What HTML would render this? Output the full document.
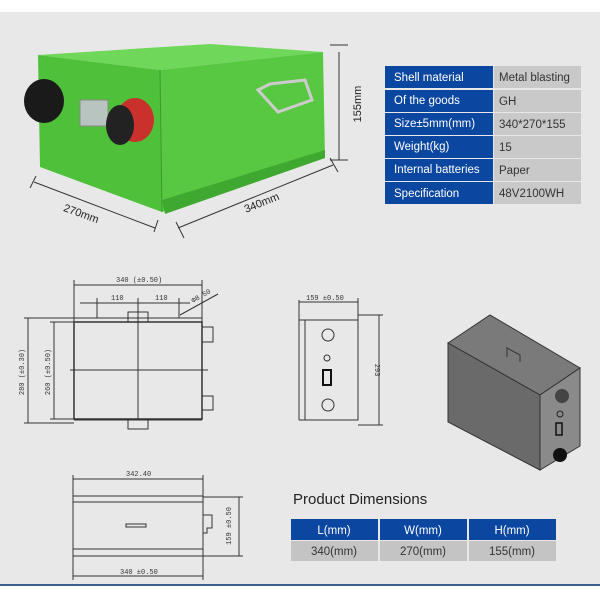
<!DOCTYPE html>
<html><head><meta charset="utf-8"><style>
body{margin:0;width:600px;height:600px;overflow:hidden;background:#fff;font-family:"Liberation Sans",sans-serif}
</style></head><body>
<svg width="600" height="600" viewBox="0 0 600 600" xmlns="http://www.w3.org/2000/svg" font-family="Liberation Sans, sans-serif">
<rect x="0" y="12" width="600" height="572" fill="#e8e8e8"/>
<rect x="0" y="584" width="600" height="2" fill="#3a5f8f"/>
<!-- green box -->
<polygon points="38,55 160,70 323,52 210,44" fill="#6fd85a"/>
<polygon points="38,55 160,70 162,212 40,167" fill="#4fc03a"/>
<polygon points="160,70 323,52 325,158 162,212" fill="#58c842"/>
<polygon points="162,200 325,150 325,158 165,214" fill="#3fa830"/>
<line x1="160" y1="70" x2="162" y2="212" stroke="#3a9a2c" stroke-width="1"/>
<rect x="80" y="100" width="28" height="26" fill="#b8c4c0" stroke="#888"/>
<ellipse cx="44" cy="101" rx="20" ry="22" fill="#1a1a1a"/>
<ellipse cx="135" cy="120" rx="19" ry="22" fill="#c8312c"/>
<ellipse cx="120" cy="125" rx="14" ry="20" fill="#222"/>
<path d="M258 90 L270 84 L305 80 L312 100 L278 112 Z" fill="none" stroke="#ccc" stroke-width="3"/>
<!-- dims green -->
<g stroke="#333" stroke-width="1" fill="none">
<line x1="330" y1="45" x2="348" y2="45"/><line x1="339" y1="52" x2="339" y2="160"/><line x1="330" y1="160" x2="348" y2="160"/>
<line x1="34" y1="182" x2="155" y2="228"/><line x1="30" y1="188" x2="36" y2="176"/><line x1="154" y1="232" x2="158" y2="220"/>
<line x1="178" y1="228" x2="333" y2="165"/><line x1="176" y1="222" x2="184" y2="238"/><line x1="330" y1="158" x2="338" y2="172"/>
</g>
<text transform="translate(361,104) rotate(-90)" font-size="11" fill="#222" text-anchor="middle">155mm</text>
<text transform="translate(80,217) rotate(20)" font-size="11" fill="#222" text-anchor="middle">270mm</text>
<text transform="translate(263,206) rotate(-22)" font-size="11" fill="#222" text-anchor="middle">340mm</text>
<!-- spec table -->
<g font-size="11.5">
<rect x="385" y="66" width="108" height="22" fill="#0b47a1"/><rect x="494" y="66" width="87" height="22" fill="#c9c9c9"/>
<rect x="385" y="90" width="108" height="22" fill="#0b47a1"/><rect x="494" y="90" width="87" height="22" fill="#c9c9c9"/>
<rect x="385" y="113" width="108" height="22" fill="#0b47a1"/><rect x="494" y="113" width="87" height="22" fill="#c9c9c9"/>
<rect x="385" y="136" width="108" height="22" fill="#0b47a1"/><rect x="494" y="136" width="87" height="22" fill="#c9c9c9"/>
<rect x="385" y="159" width="108" height="22" fill="#0b47a1"/><rect x="494" y="159" width="87" height="22" fill="#c9c9c9"/>
<rect x="385" y="182" width="108" height="22" fill="#0b47a1"/><rect x="494" y="182" width="87" height="22" fill="#c9c9c9"/>
<g fill="#fff"><text x="394" y="81">Shell material</text><text x="394" y="104">Of the goods</text><text x="394" y="127">Size±5mm(mm)</text><text x="394" y="150">Weight(kg)</text><text x="394" y="173">Internal batteries</text><text x="394" y="197">Specification</text></g>
<g fill="#333"><text x="499" y="81">Metal blasting</text><text x="499" y="105">GH</text><text x="499" y="128">340*270*155</text><text x="499" y="151">15</text><text x="499" y="174">Paper</text><text x="499" y="197">48V2100WH</text></g>
</g>
<!-- top view drawing -->
<g stroke="#333" stroke-width="1" fill="none">
<rect x="74" y="322" width="128" height="97" stroke-width="1.5"/>
<line x1="74" y1="318" x2="202" y2="318"/><line x1="74" y1="420" x2="202" y2="420"/>
<line x1="74" y1="280" x2="74" y2="322"/><line x1="202" y1="280" x2="202" y2="322"/>
<line x1="74" y1="285" x2="202" y2="285"/>
<line x1="80" y1="303" x2="190" y2="303"/><line x1="97" y1="298" x2="97" y2="318"/><line x1="138" y1="298" x2="138" y2="420"/><line x1="179" y1="298" x2="179" y2="318"/>
<line x1="180" y1="315" x2="218" y2="294"/>
<line x1="70" y1="370" x2="208" y2="370"/>
<rect x="128" y="312" width="20" height="10"/><rect x="128" y="420" width="20" height="9"/>
<rect x="202" y="327" width="11" height="15"/><rect x="202" y="396" width="11" height="14"/>
<line x1="24" y1="318" x2="74" y2="318"/><line x1="24" y1="423" x2="74" y2="423"/><line x1="28" y1="318" x2="28" y2="423"/>
<line x1="50" y1="322" x2="74" y2="322"/><line x1="50" y1="419" x2="74" y2="419"/><line x1="54" y1="322" x2="54" y2="419"/>
</g>
<g font-family="Liberation Mono, monospace" font-size="7" fill="#333">
<text x="116" y="282">340 (±0.50)</text><text x="111" y="300">110</text><text x="155" y="300">110</text>
<text transform="translate(193,303) rotate(-30)">Φ8.50</text>
<text transform="translate(24,372) rotate(-90)" text-anchor="middle">280 (±0.30)</text>
<text transform="translate(50,372) rotate(-90)" text-anchor="middle">260 (±0.50)</text>
</g>
<!-- side view -->
<g stroke="#333" stroke-width="1" fill="none">
<rect x="305" y="320" width="53" height="100"/><line x1="299" y1="320" x2="299" y2="420"/><line x1="299" y1="320" x2="305" y2="320"/><line x1="299" y1="420" x2="305" y2="420"/>
<line x1="299" y1="300" x2="299" y2="320"/><line x1="358" y1="298" x2="358" y2="320"/><line x1="299" y1="302" x2="358" y2="302"/>
<line x1="358" y1="315" x2="383" y2="315"/><line x1="358" y1="425" x2="383" y2="425"/><line x1="379" y1="315" x2="379" y2="425"/>
<circle cx="328" cy="335" r="6"/><circle cx="328" cy="405" r="6"/><circle cx="327" cy="358" r="3"/>
</g>
<rect x="323" y="370" width="8" height="15" fill="none" stroke="#111" stroke-width="2"/>
<text x="306" y="300" font-family="Liberation Mono, monospace" font-size="7" fill="#333">159 ±0.50</text>
<text transform="translate(375,370) rotate(90)" font-family="Liberation Mono, monospace" font-size="7" fill="#333" text-anchor="middle">293</text>
<!-- iso box -->
<polygon points="448,343 490,315 580,368 540,395" fill="#7a7a7a" stroke="#333"/>
<polygon points="448,343 540,395 540,470 448,422" fill="#6a6a6a" stroke="#333"/>
<polygon points="540,395 580,368 580,446 540,470" fill="#8a8a8a" stroke="#333"/>
<circle cx="562" cy="396" r="7" fill="#444"/><circle cx="560" cy="414" r="3" fill="none" stroke="#222"/>
<rect x="556" y="423" width="6" height="12" fill="none" stroke="#111" stroke-width="1.5"/>
<circle cx="560" cy="455" r="7" fill="#111"/>
<path d="M507 357 L507 348 L520 355 L520 362" fill="none" stroke="#333"/>
<!-- bottom view -->
<g stroke="#333" stroke-width="1" fill="none">
<rect x="73" y="496" width="130" height="60"/><line x1="73" y1="502" x2="203" y2="502"/><line x1="73" y1="549" x2="203" y2="549"/>
<line x1="73" y1="475" x2="73" y2="496"/><line x1="203" y1="475" x2="203" y2="496"/><line x1="73" y1="479" x2="203" y2="479"/>
<line x1="73" y1="556" x2="73" y2="580"/><line x1="203" y1="556" x2="203" y2="580"/><line x1="73" y1="576" x2="203" y2="576"/>
<path d="M203 515 L212 515 L212 528 L207 528 L207 533 L203 533"/>
<line x1="203" y1="497" x2="243" y2="497"/><line x1="203" y1="556" x2="243" y2="556"/><line x1="239" y1="497" x2="239" y2="556"/>
<rect x="126" y="524" width="20" height="3"/>
</g>
<g font-family="Liberation Mono, monospace" font-size="7" fill="#333">
<text x="126" y="476">342.40</text><text x="120" y="574">340 ±0.50</text>
<text transform="translate(231,526) rotate(-90)" text-anchor="middle">159 ±0.50</text>
</g>
<!-- product dims -->
<text x="293" y="504" font-size="15" fill="#222">Product Dimensions</text>
<g font-size="11.5" text-anchor="middle">
<rect x="291" y="519" width="87" height="21" fill="#0b47a1"/><rect x="380" y="519" width="87" height="21" fill="#0b47a1"/><rect x="469" y="519" width="87" height="21" fill="#0b47a1"/>
<rect x="291" y="541" width="87" height="20" fill="#c4c4c4"/><rect x="380" y="541" width="87" height="20" fill="#c4c4c4"/><rect x="469" y="541" width="87" height="20" fill="#c4c4c4"/>
<g fill="#fff"><text x="334" y="534">L(mm)</text><text x="423" y="534">W(mm)</text><text x="512" y="534">H(mm)</text></g>
<g fill="#333"><text x="334" y="555">340(mm)</text><text x="423" y="555">270(mm)</text><text x="512" y="555">155(mm)</text></g>
</g>
</svg>
</body></html>
